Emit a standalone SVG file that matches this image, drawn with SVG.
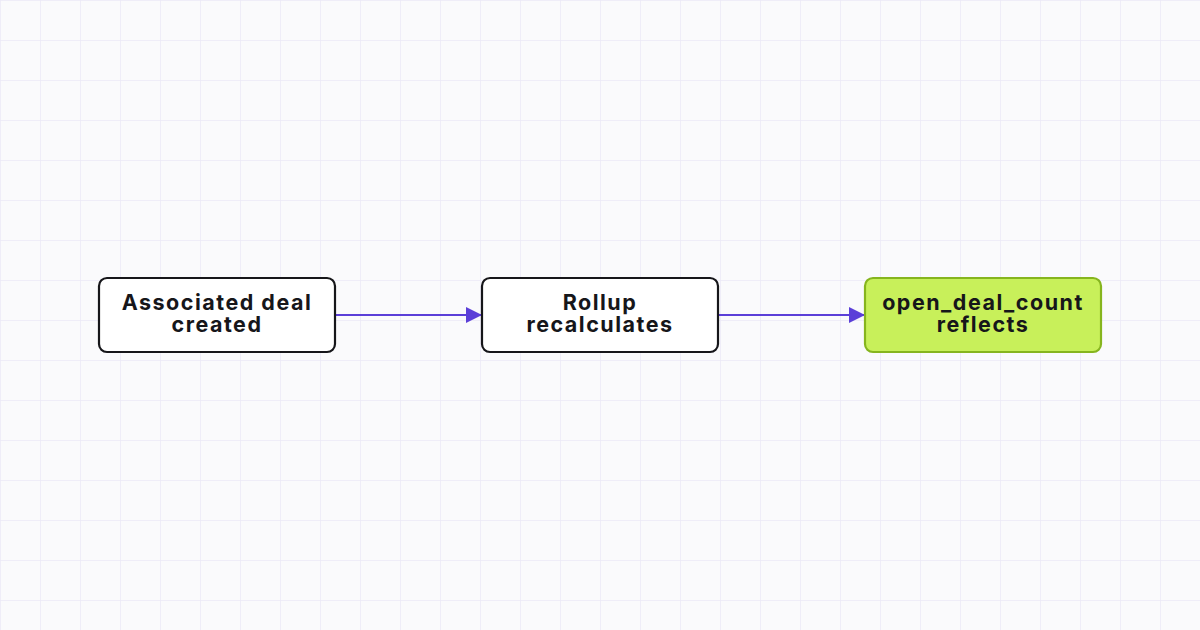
<svg xmlns="http://www.w3.org/2000/svg" width="1200" height="630" viewBox="0 0 1200 630">
<defs>
<pattern id="grid" width="40" height="40" patternUnits="userSpaceOnUse">
<path d="M0 0H40M0 0V40" fill="none" stroke="#ebe9f7" stroke-width="1.5"/>
</pattern>
<marker id="arr" markerWidth="16" markerHeight="16" refX="15" refY="8" orient="auto" markerUnits="userSpaceOnUse" viewBox="0 0 16 16">
<path d="M0 0L16 8L0 16z" fill="#5b3fd8"/>
</marker>
</defs>
<style>
.node rect{fill:#ffffff;stroke:#16161a;stroke-width:2.2}
.node.hl rect{fill:#c8f05a;stroke:#86b51e}
.node text{font-family:Inter,"Liberation Sans",sans-serif;font-weight:700;font-size:21.5px;letter-spacing:1.5px;fill:#16161a;text-anchor:middle}
.edge{stroke:#5b3fd8;stroke-width:2;fill:none}
</style>
<rect width="1200" height="630" fill="#fafafc"/>
<rect width="1200" height="630" fill="url(#grid)"/>
<g id="connectors">
<path class="edge" d="M336 315H481" marker-end="url(#arr)"/>
<path class="edge" d="M719 315H864" marker-end="url(#arr)"/>
</g>
<g id="n1" class="node">
<rect x="99" y="278" width="236" height="74" rx="8"/>
<text x="217" y="309.5">Associated deal</text>
<text x="217" y="331.5">created</text>
</g>
<g id="n2" class="node">
<rect x="482" y="278" width="236" height="74" rx="8"/>
<text x="600" y="309.5">Rollup</text>
<text x="600" y="331.5">recalculates</text>
</g>
<g id="n3" class="node hl">
<rect x="865" y="278" width="236" height="74" rx="8"/>
<text x="983" y="309.5">open_deal_count</text>
<text x="983" y="331.5">reflects</text>
</g>
</svg>
